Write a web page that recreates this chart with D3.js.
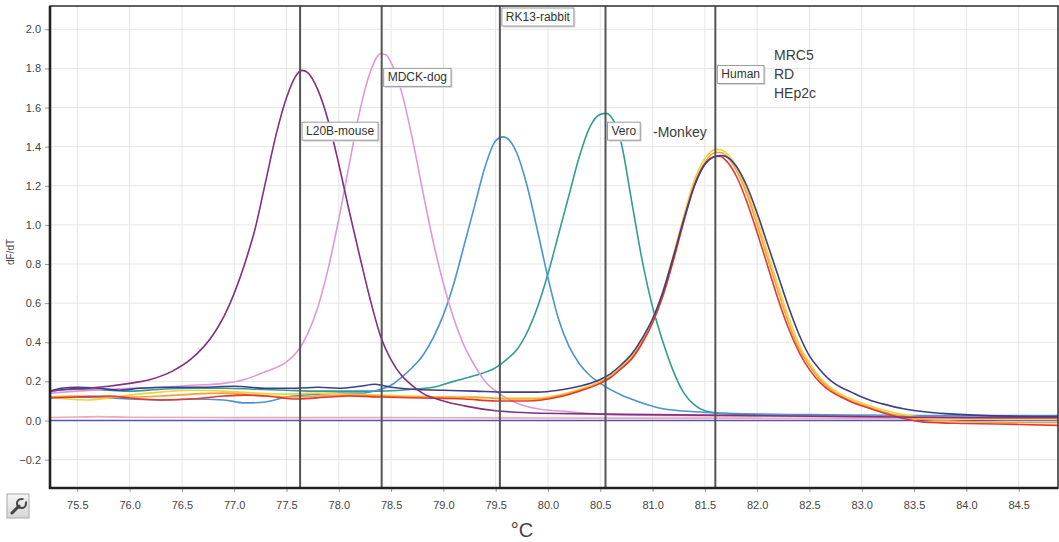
<!DOCTYPE html>
<html>
<head>
<meta charset="utf-8">
<script src="https://cdn.jsdelivr.net/npm/d3@7/dist/d3.min.js"></script>
<style>
  html, body { margin: 0; padding: 0; background: #fff; }
  svg { display: block; font-family: "Liberation Sans", Arial, sans-serif; }
</style>
</head>
<body>
<svg id="chart" width="1059" height="542"></svg>
<script>
// ---------- DATA ----------
const xTicks = [75.5, 76.0, 76.5, 77.0, 77.5, 78.0, 78.5, 79.0, 79.5, 80.0, 80.5, 81.0, 81.5, 82.0, 82.5, 83.0, 83.5, 84.0, 84.5];
const yTicks = [-0.2, 0.0, 0.2, 0.4, 0.6, 0.8, 1.0, 1.2, 1.4, 1.6, 1.8, 2.0];

const markerNames = ["L20B-mouse", "MDCK-dog", "RK13-rabbit", "Vero", "Human"];
const markerTemps = [77.63, 78.41, 79.54, 80.55, 81.60];
const markerLabelLevels = [1.525, 1.80, 2.11, 1.525, 1.815];

const humanLines = ["MRC5", "RD", "HEp2c"];
const monkeyNote = "-Monkey";

const l20bMouse = [[75.24,0.15],[75.4,0.16],[75.6,0.165],[75.8,0.175],[76.0,0.19],[76.2,0.21],[76.4,0.25],[76.6,0.32],[76.8,0.44],[76.9,0.53],[77.0,0.65],[77.1,0.8],[77.2,0.98],[77.3,1.22],[77.4,1.46],[77.5,1.65],[77.6,1.77],[77.65,1.79],[77.7,1.78],[77.8,1.69],[77.9,1.53],[78.0,1.31],[78.1,1.07],[78.2,0.84],[78.3,0.62],[78.4,0.43],[78.5,0.31],[78.6,0.23],[78.7,0.18],[78.8,0.14],[79.0,0.1],[79.2,0.075],[79.5,0.05],[79.8,0.04],[80.2,0.035],[81.0,0.03],[82.0,0.025],[83.0,0.02],[84.0,0.015],[84.88,0.015]];

const mdckDog = [[75.24,0.14],[75.5,0.15],[75.8,0.16],[76.0,0.165],[76.3,0.17],[76.6,0.18],[76.9,0.19],[77.1,0.21],[77.3,0.25],[77.5,0.3],[77.6,0.35],[77.7,0.44],[77.8,0.58],[77.9,0.78],[78.0,1.03],[78.1,1.31],[78.2,1.58],[78.3,1.78],[78.4,1.875],[78.45,1.87],[78.5,1.83],[78.6,1.68],[78.7,1.45],[78.8,1.18],[78.9,0.92],[79.0,0.7],[79.1,0.52],[79.2,0.38],[79.3,0.28],[79.4,0.2],[79.5,0.15],[79.7,0.09],[79.9,0.06],[80.2,0.045],[80.6,0.03],[81.5,0.025],[83.0,0.02],[84.88,0.015]];

const rk13Rabbit = [[75.24,0.12],[75.5,0.12],[75.8,0.115],[76.0,0.11],[76.3,0.105],[76.6,0.11],[76.9,0.105],[77.1,0.09],[77.3,0.095],[77.5,0.12],[77.8,0.135],[78.0,0.14],[78.2,0.14],[78.4,0.16],[78.5,0.18],[78.6,0.22],[78.7,0.27],[78.8,0.33],[78.9,0.42],[79.0,0.54],[79.1,0.7],[79.2,0.9],[79.3,1.1],[79.4,1.3],[79.5,1.43],[79.57,1.45],[79.65,1.42],[79.7,1.37],[79.8,1.2],[79.9,0.97],[80.0,0.73],[80.1,0.52],[80.2,0.38],[80.3,0.29],[80.4,0.23],[80.5,0.19],[80.7,0.13],[80.9,0.09],[81.1,0.06],[81.4,0.045],[81.8,0.035],[82.5,0.03],[83.5,0.025],[84.88,0.025]];

const veroMonkey = [[75.24,0.15],[75.5,0.16],[75.8,0.155],[76.0,0.15],[76.3,0.16],[76.6,0.165],[76.9,0.165],[77.2,0.16],[77.5,0.155],[77.8,0.15],[78.1,0.15],[78.4,0.15],[78.7,0.16],[78.9,0.17],[79.1,0.2],[79.3,0.23],[79.5,0.27],[79.6,0.31],[79.7,0.36],[79.8,0.45],[79.9,0.58],[80.0,0.75],[80.1,0.95],[80.2,1.15],[80.3,1.35],[80.4,1.5],[80.5,1.565],[80.56,1.57],[80.6,1.555],[80.7,1.42],[80.8,1.12],[80.9,0.82],[81.0,0.58],[81.1,0.4],[81.2,0.25],[81.3,0.14],[81.4,0.08],[81.5,0.05],[81.7,0.035],[82.0,0.03],[83.0,0.025],[84.88,0.02]];

const humanNavy = [[75.24,0.15],[75.35,0.165],[75.5,0.17],[75.7,0.165],[75.9,0.155],[76.1,0.165],[76.4,0.17],[76.7,0.17],[77.0,0.175],[77.3,0.165],[77.6,0.165],[77.8,0.17],[78.0,0.165],[78.2,0.175],[78.35,0.185],[78.5,0.17],[78.7,0.16],[79.0,0.155],[79.3,0.15],[79.6,0.145],[79.9,0.145],[80.1,0.155],[80.3,0.175],[80.5,0.21],[80.6,0.24],[80.7,0.285],[80.8,0.34],[80.9,0.42],[81.0,0.52],[81.1,0.66],[81.2,0.84],[81.3,1.03],[81.4,1.2],[81.5,1.31],[81.6,1.35],[81.65,1.355],[81.7,1.35],[81.8,1.3],[81.9,1.2],[82.0,1.06],[82.1,0.9],[82.2,0.74],[82.3,0.58],[82.4,0.44],[82.5,0.33],[82.6,0.26],[82.7,0.205],[82.8,0.17],[82.9,0.145],[83.0,0.12],[83.1,0.1],[83.2,0.085],[83.4,0.06],[83.6,0.045],[83.8,0.035],[84.2,0.025],[84.88,0.02]];

const humanRed = [[75.24,0.115],[75.5,0.12],[75.8,0.125],[76.0,0.115],[76.3,0.105],[76.6,0.11],[76.9,0.125],[77.1,0.13],[77.3,0.125],[77.6,0.11],[77.9,0.12],[78.1,0.125],[78.4,0.12],[78.8,0.115],[79.2,0.11],[79.5,0.1],[79.8,0.1],[80.1,0.12],[80.3,0.15],[80.5,0.19],[80.6,0.22],[80.7,0.265],[80.8,0.315],[80.9,0.395],[81.0,0.5],[81.1,0.64],[81.2,0.82],[81.3,1.02],[81.4,1.2],[81.5,1.31],[81.6,1.35],[81.65,1.35],[81.7,1.33],[81.8,1.25],[81.9,1.12],[82.0,0.96],[82.1,0.79],[82.2,0.62],[82.3,0.47],[82.4,0.35],[82.5,0.26],[82.6,0.195],[82.7,0.15],[82.8,0.12],[82.9,0.095],[83.0,0.075],[83.2,0.04],[83.4,0.01],[83.6,-0.008],[84.0,-0.015],[84.5,-0.02],[84.88,-0.025]];

const humanOrange = [[75.24,0.12],[75.5,0.125],[75.8,0.12],[76.0,0.12],[76.3,0.125],[76.6,0.135],[76.9,0.14],[77.2,0.13],[77.5,0.12],[77.8,0.125],[78.1,0.13],[78.4,0.125],[78.7,0.12],[79.0,0.12],[79.3,0.12],[79.6,0.11],[79.9,0.11],[80.1,0.125],[80.3,0.155],[80.5,0.195],[80.6,0.225],[80.7,0.27],[80.8,0.32],[80.9,0.4],[81.0,0.5],[81.1,0.64],[81.2,0.83],[81.3,1.03],[81.4,1.21],[81.5,1.32],[81.6,1.37],[81.65,1.37],[81.7,1.355],[81.8,1.28],[81.9,1.16],[82.0,1.0],[82.1,0.83],[82.2,0.66],[82.3,0.5],[82.4,0.37],[82.5,0.28],[82.6,0.21],[82.7,0.16],[82.8,0.125],[82.9,0.1],[83.0,0.08],[83.2,0.045],[83.4,0.02],[83.6,0.005],[84.0,-0.005],[84.5,-0.01],[84.88,-0.01]];

const humanYellow = [[75.24,0.12],[75.4,0.11],[75.6,0.105],[75.8,0.115],[76.0,0.13],[76.3,0.145],[76.6,0.155],[76.9,0.15],[77.2,0.14],[77.5,0.135],[77.8,0.14],[78.1,0.135],[78.4,0.13],[78.7,0.125],[79.0,0.12],[79.3,0.115],[79.6,0.115],[79.9,0.115],[80.1,0.13],[80.3,0.16],[80.5,0.2],[80.6,0.23],[80.7,0.275],[80.8,0.33],[80.9,0.41],[81.0,0.52],[81.1,0.66],[81.2,0.85],[81.3,1.05],[81.4,1.23],[81.5,1.34],[81.6,1.385],[81.65,1.385],[81.7,1.37],[81.8,1.3],[81.9,1.18],[82.0,1.03],[82.1,0.86],[82.2,0.69],[82.3,0.53],[82.4,0.39],[82.5,0.295],[82.6,0.22],[82.7,0.17],[82.8,0.135],[82.9,0.11],[83.0,0.09],[83.2,0.055],[83.4,0.03],[83.6,0.015],[84.0,0.01],[84.5,0.005],[84.88,0.005]];

const ntcPink = [[75.24,0.015],[75.5,0.018],[75.7,0.02],[76.0,0.017],[77.0,0.015],[78.0,0.015],[79.0,0.014],[80.0,0.013],[81.0,0.012],[82.0,0.012],[83.0,0.01],[84.88,0.01]];
const ntcBlue = [[75.24,0.0],[80.0,0.0],[84.88,0.0]];

const seriesList = [
  { data: ntcPink,     color: "#f2a7b6" },
  { data: ntcBlue,     color: "#5353b8" },
  { data: veroMonkey,  color: "#2f9e92" },
  { data: rk13Rabbit,  color: "#4b93d3" },
  { data: mdckDog,     color: "#dc9ad8" },
  { data: humanYellow, color: "#f2d23a" },
  { data: humanOrange, color: "#f4a035" },
  { data: humanRed,    color: "#e5382c" },
  { data: humanNavy,   color: "#3d3d8e" },
  { data: l20bMouse,   color: "#82307f" }
];

// ---------- LAYOUT ----------
const svg = d3.select("#chart");
const plot = { left: 50, top: 6, right: 1058, bottom: 488 };

const x = d3.scaleLinear().domain([75.239, 84.876]).range([plot.left, plot.right]);
const y = d3.scaleLinear().domain([-0.345, 2.119]).range([plot.bottom, plot.top]);

const defs = svg.append("defs");
defs.append("clipPath").attr("id", "clip")
  .append("rect").attr("x", plot.left).attr("y", plot.top)
  .attr("width", plot.right - plot.left).attr("height", plot.bottom - plot.top);

// grid
const grid = svg.append("g");
grid.selectAll("line.gx").data(xTicks).join("line")
  .attr("x1", d => x(d)).attr("x2", d => x(d))
  .attr("y1", plot.top).attr("y2", plot.bottom)
  .attr("stroke", "#e6e6e6").attr("stroke-width", 1);
grid.selectAll("line.gy").data(yTicks).join("line")
  .attr("y1", d => y(d)).attr("y2", d => y(d))
  .attr("x1", plot.left).attr("x2", plot.right)
  .attr("stroke", "#e6e6e6").attr("stroke-width", 1);

// curves
const line = d3.line().x(d => x(d[0])).y(d => y(d[1])).curve(d3.curveMonotoneX);
svg.append("g").attr("clip-path", "url(#clip)")
  .selectAll("path").data(seriesList).join("path")
  .attr("d", d => line(d.data))
  .attr("fill", "none")
  .attr("stroke", d => d.color)
  .attr("stroke-width", 1.6)
  .attr("stroke-linejoin", "round");

// marker lines
svg.append("g").selectAll("line").data(markerTemps).join("line")
  .attr("x1", d => x(d)).attr("x2", d => x(d))
  .attr("y1", plot.top).attr("y2", plot.bottom)
  .attr("stroke", "#555").attr("stroke-width", 2);

// axes
const xAxis = d3.axisBottom(x).tickValues(xTicks).tickFormat(d3.format(".1f")).tickSize(4).tickPadding(9);
const gx = svg.append("g").attr("transform", `translate(0,${plot.bottom})`).call(xAxis);
gx.select(".domain").remove();
gx.selectAll("line").attr("stroke", "#999");
gx.selectAll("text").attr("fill", "#444").style("font-size", "11px");

const yAxis = d3.axisLeft(y).tickValues(yTicks).tickFormat(d3.format(".1f")).tickSize(5).tickPadding(4);
const gy = svg.append("g").attr("transform", `translate(${plot.left},0)`).call(yAxis);
gy.select(".domain").remove();
gy.selectAll("line").attr("stroke", "#999");
gy.selectAll("text").attr("fill", "#444").style("font-size", "11px");

// frame
svg.append("rect").attr("x", plot.left).attr("y", plot.top)
  .attr("width", plot.right - plot.left).attr("height", plot.bottom - plot.top)
  .attr("fill", "none").attr("stroke", "#3a3a3a").attr("stroke-width", 1.6);
svg.append("line").attr("x1", plot.left).attr("x2", plot.left).attr("y1", plot.top).attr("y2", plot.bottom + 1)
  .attr("stroke", "#222").attr("stroke-width", 2.6);
svg.append("line").attr("x1", plot.left - 1).attr("x2", plot.right).attr("y1", plot.bottom).attr("y2", plot.bottom)
  .attr("stroke", "#222").attr("stroke-width", 2.6);

// axis titles
svg.append("text").attr("transform", `translate(14,${252}) rotate(-90)`)
  .attr("text-anchor", "middle").attr("fill", "#444").style("font-size", "10px").text("dF/dT");
svg.append("text").attr("x", 522).attr("y", 537).attr("text-anchor", "middle")
  .attr("fill", "#444").style("font-size", "20px").text("°C");

// marker labels
const lbl = svg.append("g");
markerNames.forEach((name, i) => {
  const gx0 = x(markerTemps[i]) + 2;
  const gy0 = Math.max(y(markerLabelLevels[i]), plot.top + 2);
  const g = lbl.append("g").attr("transform", `translate(${gx0},${gy0})`);
  const t = g.append("text").attr("x", 4).attr("y", 13).attr("fill", "#333")
    .style("font-size", "12px").text(name);
  const w = t.node().getComputedTextLength() + 8;
  g.insert("rect", "text").attr("x", 1.5).attr("y", 1.5).attr("width", w).attr("height", 18)
    .attr("fill", "#d8d8d8");
  g.insert("rect", "text").attr("x", 0).attr("y", 0).attr("width", w).attr("height", 18)
    .attr("fill", "#fff").attr("stroke", "#9a9a9a").attr("stroke-width", 1);
});

// free annotations
const ann = svg.append("g").attr("fill", "#3c3c3c").style("font-size", "14px");
humanLines.forEach((t, i) => {
  ann.append("text").attr("x", 774).attr("y", 60 + i * 19).text(t);
});
ann.append("text").attr("x", 653).attr("y", 137).text(monkeyNote);

// wrench button
const btn = svg.append("g").attr("transform", "translate(7,494)");
const grad = defs.append("linearGradient").attr("id", "btn").attr("x1", 0).attr("y1", 0).attr("x2", 0).attr("y2", 1);
grad.append("stop").attr("offset", "0%").attr("stop-color", "#f6f6f6");
grad.append("stop").attr("offset", "100%").attr("stop-color", "#d6d6d6");
btn.append("rect").attr("width", 22).attr("height", 24).attr("fill", "url(#btn)")
  .attr("stroke", "#a8a8a8").attr("stroke-width", 1);
btn.append("path").attr("d", "M5,19 L12,12").attr("stroke", "#444").attr("stroke-width", 3).attr("stroke-linecap", "round");
btn.append("circle").attr("cx", 14.5).attr("cy", 9.5).attr("r", 4.5)
  .attr("fill", "none").attr("stroke", "#444").attr("stroke-width", 2);
btn.append("path").attr("d", "M15,9 L20,4").attr("stroke", "#eaeaea").attr("stroke-width", 3);
</script>
</body>
</html>
